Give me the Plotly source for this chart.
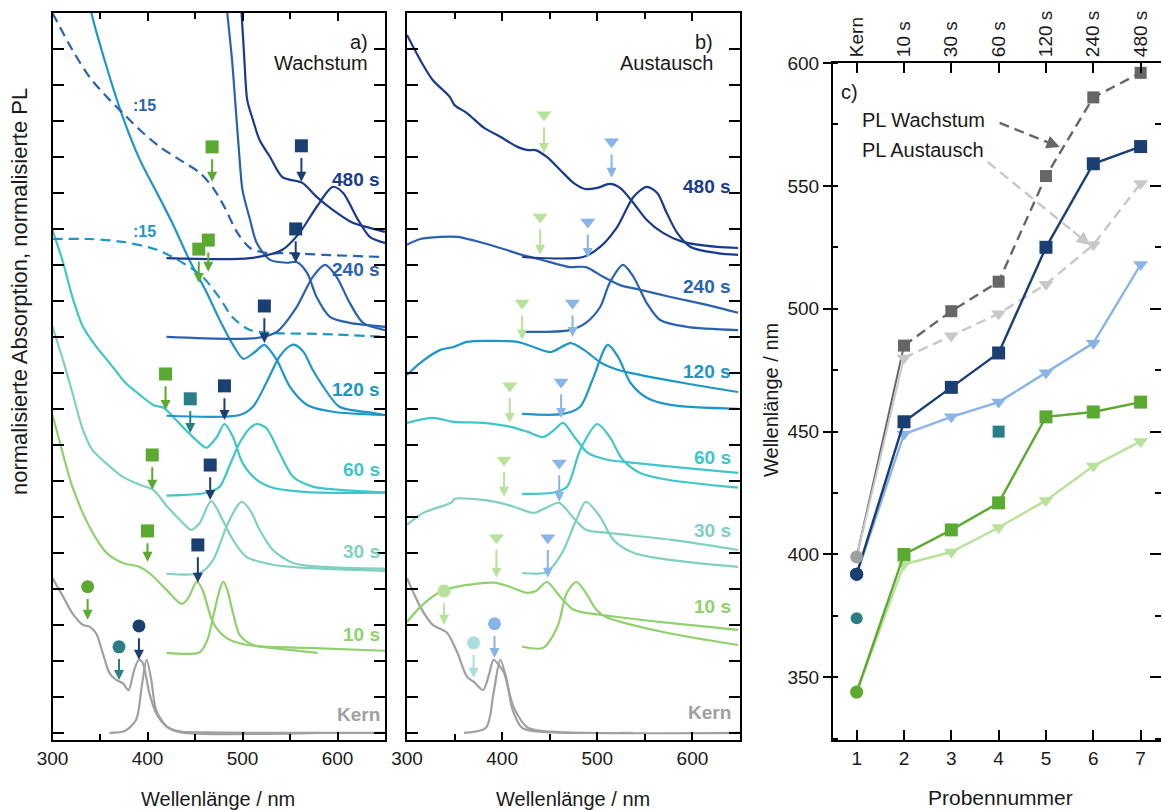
import plotly.graph_objects as go

FONT = "Liberation Sans, Arial, sans-serif"

# ---------------- colours ----------------
C_KERN = "#a0a0a0"
C_10 = "#8fd16c"
C_30 = "#80d0c0"
C_60 = "#3ec6c8"
C_120 = "#1e96c8"
C_240 = "#2a62b0"
C_480 = "#1a3a8c"
C_GREEN = "#5aaa32"
C_LGREEN = "#b8e29a"
C_DBLUE = "#1b3f73"
C_LBLUE = "#88b4e8"
C_TEAL = "#2a7f86"
C_LTEAL = "#a8dede"
C_DGRAY = "#666666"
C_LGRAY = "#c8c8c8"

# ================= Panel a (Wachstum) =================
a_kern_abs_nm = [300, 311, 321, 332, 339, 346, 353, 360, 367, 374, 380, 386, 391, 395, 402, 409, 420, 434, 462, 650]
a_kern_abs_y = [4.3, 3.79, 3.32, 3.0, 2.95, 2.76, 2.21, 1.66, 1.47, 1.38, 1.18, 1.75, 2.03, 1.94, 1.10, 0.55, 0.18, 0.04, 0.01, 0.0]
a_kern_pl_nm = [360, 376, 388, 394, 399, 404, 409, 420, 434, 580]
a_kern_pl_y = [0.0, 0.05, 0.36, 1.3, 2.03, 1.47, 0.64, 0.18, 0.02, 0.0]

a_10_abs_nm = [300, 307, 321, 339, 357, 374, 392, 402, 420, 436, 443, 452, 458, 469, 483, 505, 568, 650]
a_10_abs_y = [8.83, 8.14, 6.83, 5.72, 5.0, 4.72, 4.61, 4.44, 3.97, 3.58, 3.75, 4.2, 3.97, 3.06, 2.64, 2.44, 2.36, 2.28]
a_10_pl_nm = [420, 455, 463, 470, 477, 480, 484, 490, 497, 511, 540, 579]
a_10_pl_y = [2.22, 2.24, 2.58, 3.33, 4.06, 4.2, 3.97, 3.33, 2.72, 2.44, 2.33, 2.22]

a_30_abs_nm = [300, 311, 321, 332, 342, 356, 374, 392, 406, 420, 434, 446, 455, 467, 479, 490, 504, 532, 568, 650]
a_30_abs_y = [11.29, 10.36, 9.44, 8.42, 7.86, 7.5, 7.11, 6.89, 6.75, 6.31, 5.92, 5.64, 5.83, 6.44, 5.92, 5.36, 4.89, 4.67, 4.58, 4.5]
a_30_pl_nm = [420, 455, 469, 483, 494, 499, 508, 518, 532, 553, 585, 650]
a_30_pl_y = [4.42, 4.44, 4.8, 5.72, 6.28, 6.42, 6.19, 5.64, 5.08, 4.72, 4.61, 4.56]

a_60_abs_nm = [300, 311, 321, 332, 346, 360, 377, 392, 406, 417, 427, 437, 451, 462, 473, 481, 490, 500, 515, 532, 568, 650]
a_60_abs_y = [13.97, 13.08, 12.1, 11.29, 10.73, 10.28, 9.72, 9.39, 9.11, 9.03, 8.78, 8.5, 8.14, 7.92, 8.22, 8.58, 8.22, 7.5, 7.03, 6.81, 6.69, 6.67]
a_60_pl_nm = [420, 462, 476, 486, 497, 508, 515, 525, 539, 553, 574, 602, 650]
a_60_pl_y = [6.59, 6.67, 6.84, 7.4, 8.06, 8.47, 8.58, 8.47, 7.78, 7.12, 6.84, 6.75, 6.68]

a_120_abs_nm = [337, 341, 357, 374, 392, 410, 426, 444, 462, 476, 490, 501, 513, 523, 536, 550, 568, 595, 650]
a_120_abs_y = [20.6, 20.0, 18.5, 17.11, 15.92, 15.0, 14.17, 13.14, 12.25, 11.47, 10.78, 10.39, 10.58, 10.78, 10.36, 9.61, 9.11, 8.92, 8.83]
a_120_pl_nm = [420, 497, 511, 525, 539, 550, 555, 564, 574, 585, 602, 637, 650]
a_120_pl_y = [8.81, 8.83, 9.06, 9.72, 10.45, 10.75, 10.78, 10.59, 10.08, 9.62, 9.06, 8.89, 8.83]
a_120_abs15_nm = [300, 339, 374, 410, 437, 458, 476, 490, 508, 532, 585, 650]
a_120_abs15_y = [13.72, 13.72, 13.64, 13.42, 13.06, 12.67, 12.08, 11.53, 11.19, 11.11, 11.08, 11.0]

a_240_abs_nm = [482, 484, 489, 493, 497, 500, 508, 515, 529, 547, 557, 568, 578, 592, 613, 650]
a_240_abs_y = [20.6, 20.0, 18.69, 17.31, 15.92, 15.08, 14.25, 13.61, 13.14, 13.06, 13.08, 12.78, 12.11, 11.56, 11.39, 11.28]
a_240_pl_nm = [420, 515, 536, 557, 574, 587, 599, 613, 627, 650]
a_240_pl_y = [11.0, 10.97, 11.14, 11.83, 12.67, 13.0, 12.67, 11.94, 11.39, 11.19]
a_240_abs15_nm = [300, 321, 339, 357, 374, 392, 413, 434, 455, 469, 481, 494, 508, 526, 550, 585, 650]
a_240_abs15_y = [20.0, 18.97, 18.22, 17.67, 17.22, 16.75, 16.28, 15.92, 15.56, 15.14, 14.61, 13.92, 13.47, 13.33, 13.33, 13.28, 13.22]

a_480_abs_nm = [497, 499, 502, 505, 511, 518, 529, 542, 563, 578, 595, 616, 634, 650]
a_480_abs_y = [20.6, 20.0, 18.69, 17.58, 17.03, 16.47, 16.0, 15.44, 15.28, 14.89, 14.53, 14.17, 14.03, 13.92]
a_480_pl_nm = [420, 508, 542, 560, 578, 595, 606, 620, 634, 650]
a_480_pl_y = [13.19, 13.19, 13.42, 13.89, 14.61, 15.17, 15.0, 14.33, 13.78, 13.61]

# marker arrows panel a: wavelength, arrow tip, symbol height, symbol, colour
a_mark_nm = [337, 370, 391, 400, 453, 405, 466, 419, 445, 481, 454, 464, 523, 468, 556, 562]
a_mark_tip = [3.14, 1.47, 2.03, 4.75, 4.17, 6.75, 6.47, 8.97, 8.33, 8.69, 12.5, 12.81, 10.83, 15.31, 13.06, 15.31]
a_mark_sym = [4.06, 2.39, 2.97, 5.61, 5.22, 7.72, 7.44, 9.97, 9.28, 9.64, 13.44, 13.69, 11.86, 16.28, 14.0, 16.31]
a_mark_kind = ["circle", "circle", "circle", "square", "square", "square", "square", "square", "square",
               "square", "square", "square", "square", "square", "square", "square"]
a_mark_col = [C_GREEN, C_TEAL, C_DBLUE, C_GREEN, C_DBLUE, C_GREEN, C_DBLUE, C_GREEN, C_TEAL, C_DBLUE,
              C_GREEN, C_GREEN, C_DBLUE, C_GREEN, C_DBLUE, C_DBLUE]

# ================= Panel b (Austausch) =================
b_kern_abs_nm = [300, 314, 327, 342, 353, 363, 370, 380, 386, 391, 396, 402, 412, 427, 451, 650]
b_kern_abs_y = [4.3, 3.5, 3.0, 2.78, 2.22, 1.56, 1.42, 1.19, 1.6, 2.03, 1.9, 1.67, 0.72, 0.14, 0.03, 0.0]
b_kern_pl_nm = [360, 383, 391, 398, 404, 411, 421, 439, 537]
b_kern_pl_y = [0.0, 0.14, 1.11, 2.03, 1.56, 0.64, 0.14, 0.03, 0.0]

b_10_abs_nm = [300, 314, 335, 353, 391, 408, 426, 436, 447, 461, 475, 503, 573, 648]
b_10_abs_y = [3.08, 3.5, 3.92, 4.06, 4.17, 4.06, 3.89, 3.95, 4.19, 3.78, 3.42, 3.28, 3.06, 2.86]
b_10_pl_nm = [421, 443, 458, 468, 478, 488, 499, 509, 573, 648]
b_10_pl_y = [2.39, 2.36, 2.94, 3.89, 4.19, 3.89, 3.42, 3.22, 2.78, 2.44]

b_30_abs_nm = [300, 317, 347, 350, 380, 398, 416, 433, 446, 460, 474, 488, 509, 579, 648]
b_30_abs_y = [5.78, 6.11, 6.4, 6.5, 6.47, 6.39, 6.25, 6.11, 6.25, 6.39, 6.0, 5.64, 5.56, 5.36, 5.08]
b_30_pl_nm = [421, 447, 463, 478, 488, 503, 517, 538, 574, 648]
b_30_pl_y = [4.44, 4.47, 5.0, 5.92, 6.42, 6.0, 5.36, 5.0, 4.81, 4.61]

b_60_abs_nm = [300, 327, 349, 380, 409, 427, 443, 454, 464, 476, 490, 512, 539, 591, 648]
b_60_abs_y = [8.61, 8.75, 8.64, 8.61, 8.5, 8.36, 8.22, 8.4, 8.61, 8.22, 7.78, 7.58, 7.5, 7.36, 7.22]
b_60_pl_nm = [421, 453, 468, 482, 500, 513, 527, 545, 574, 648]
b_60_pl_y = [6.64, 6.67, 6.83, 7.86, 8.58, 8.22, 7.58, 7.22, 7.03, 6.81]

b_120_abs_nm = [300, 314, 335, 349, 363, 384, 416, 433, 451, 472, 486, 504, 522, 546, 591, 648]
b_120_abs_y = [9.94, 10.28, 10.64, 10.72, 10.86, 10.89, 10.86, 10.72, 10.58, 10.83, 10.64, 10.28, 10.08, 9.94, 9.72, 9.47]
b_120_pl_nm = [421, 464, 482, 495, 511, 522, 535, 552, 577, 648]
b_120_pl_y = [8.86, 8.86, 9.06, 9.81, 10.78, 10.44, 9.72, 9.31, 9.11, 9.0]

b_240_abs_nm = [300, 314, 335, 353, 380, 404, 418, 439, 471, 488, 506, 524, 545, 577, 615, 648]
b_240_abs_y = [13.56, 13.72, 13.78, 13.78, 13.61, 13.42, 13.3, 13.16, 12.94, 12.94, 12.67, 12.44, 12.31, 12.11, 11.89, 11.67]
b_240_pl_nm = [421, 471, 488, 503, 513, 527, 538, 552, 566, 594, 648]
b_240_pl_y = [11.14, 11.19, 11.39, 11.83, 12.5, 13.0, 12.67, 11.94, 11.47, 11.28, 11.19]

b_480_abs_nm = [300, 314, 327, 345, 350, 363, 380, 398, 416, 427, 435, 447, 461, 475, 487, 500, 513, 524, 538, 552, 569, 590, 626, 648]
b_480_abs_y = [19.39, 18.69, 18.14, 17.67, 17.44, 17.22, 16.83, 16.56, 16.28, 16.19, 16.19, 16.0, 15.64, 15.28, 15.11, 15.14, 15.25, 15.14, 14.72, 14.25, 13.89, 13.64, 13.5, 13.47]
b_480_pl_nm = [421, 485, 503, 521, 538, 552, 563, 573, 584, 598, 626, 648]
b_480_pl_y = [13.22, 13.22, 13.5, 14.06, 14.89, 15.17, 15.0, 14.44, 13.89, 13.5, 13.33, 13.28]

b_mark_nm = [339, 370, 392, 394, 448, 402, 460, 408, 462, 421, 474, 440, 490, 444, 515]
b_mark_tip = [3.0, 1.53, 2.08, 4.31, 4.31, 6.56, 6.42, 8.61, 8.75, 10.92, 11.0, 13.28, 13.19, 16.11, 15.42]
b_mark_sym = [3.94, 2.5, 3.03, 5.42, 5.42, 7.58, 7.5, 9.64, 9.75, 11.94, 11.94, 14.33, 14.19, 17.17, 16.42]
b_mark_kind = ["circle", "circle", "circle"] + ["triangle-down"] * 12
b_mark_col = [C_LGREEN, C_LTEAL, C_LBLUE] + [C_LGREEN, C_LBLUE] * 6

# ================= Panel c =================
c_x = [1, 2, 3, 4, 5, 6, 7]
c_top_labels = ["Kern", "10 s", "30 s", "60 s", "120 s", "240 s", "480 s"]
c_pl_wachstum = [399, 485, 499, 511, 554, 586, 596]
c_pl_austausch = [399, 480, 489, 498, 510, 526, 551]
c_abs_wachstum = [392, 454, 468, 482, 525, 559, 566]
c_abs_austausch = [392, 449, 456, 462, 474, 486, 518]
c_abs2_wachstum = [344, 400, 410, 421, 456, 458, 462]
c_abs2_austausch = [344, 396, 401, 411, 422, 436, 446]
c_teal_x = [1, 4]
c_teal_y = [374, 450]

DASH = "10px,6px"

fig = go.Figure()

def spec(x, y, color, xa, ya, dash="solid", width=2.2):
    fig.add_trace(go.Scatter(x=x, y=y, mode="lines", xaxis=xa, yaxis=ya,
                             line=dict(color=color, width=width, dash=dash, shape="spline", smoothing=0.8),
                             showlegend=False, hoverinfo="skip"))

# panel a
spec(a_kern_abs_nm, a_kern_abs_y, C_KERN, "x", "y")
spec(a_kern_pl_nm, a_kern_pl_y, C_KERN, "x", "y")
spec(a_10_abs_nm, a_10_abs_y, C_10, "x", "y")
spec(a_10_pl_nm, a_10_pl_y, C_10, "x", "y")
spec(a_30_abs_nm, a_30_abs_y, C_30, "x", "y")
spec(a_30_pl_nm, a_30_pl_y, C_30, "x", "y")
spec(a_60_abs_nm, a_60_abs_y, C_60, "x", "y")
spec(a_60_pl_nm, a_60_pl_y, C_60, "x", "y")
spec(a_120_abs_nm, a_120_abs_y, C_120, "x", "y")
spec(a_120_pl_nm, a_120_pl_y, C_120, "x", "y")
spec(a_120_abs15_nm, a_120_abs15_y, C_120, "x", "y", dash=DASH)
spec(a_240_abs_nm, a_240_abs_y, C_240, "x", "y")
spec(a_240_pl_nm, a_240_pl_y, C_240, "x", "y")
spec(a_240_abs15_nm, a_240_abs15_y, C_240, "x", "y", dash=DASH)
spec(a_480_abs_nm, a_480_abs_y, C_480, "x", "y")
spec(a_480_pl_nm, a_480_pl_y, C_480, "x", "y")

# panel b
spec(b_kern_abs_nm, b_kern_abs_y, C_KERN, "x2", "y2")
spec(b_kern_pl_nm, b_kern_pl_y, C_KERN, "x2", "y2")
spec(b_10_abs_nm, b_10_abs_y, C_10, "x2", "y2")
spec(b_10_pl_nm, b_10_pl_y, C_10, "x2", "y2")
spec(b_30_abs_nm, b_30_abs_y, C_30, "x2", "y2")
spec(b_30_pl_nm, b_30_pl_y, C_30, "x2", "y2")
spec(b_60_abs_nm, b_60_abs_y, C_60, "x2", "y2")
spec(b_60_pl_nm, b_60_pl_y, C_60, "x2", "y2")
spec(b_120_abs_nm, b_120_abs_y, C_120, "x2", "y2")
spec(b_120_pl_nm, b_120_pl_y, C_120, "x2", "y2")
spec(b_240_abs_nm, b_240_abs_y, C_240, "x2", "y2")
spec(b_240_pl_nm, b_240_pl_y, C_240, "x2", "y2")
spec(b_480_abs_nm, b_480_abs_y, C_480, "x2", "y2")
spec(b_480_pl_nm, b_480_pl_y, C_480, "x2", "y2")

annotations = []

def add_marks(nm, tip, sym, kind, col, xa, ya):
    for i in range(len(nm)):
        fig.add_trace(go.Scatter(x=[nm[i]], y=[sym[i]], mode="markers", xaxis=xa, yaxis=ya,
                                 marker=dict(symbol=kind[i], size=13, color=col[i], line=dict(width=0)),
                                 showlegend=False, hoverinfo="skip", cliponaxis=False))
        annotations.append(dict(x=nm[i], y=tip[i], ax=nm[i], ay=sym[i] - 0.3, xref=xa, yref=ya,
                                axref=xa, ayref=ya, showarrow=True, arrowhead=2, arrowsize=1,
                                arrowwidth=2, arrowcolor=col[i], text=""))

add_marks(a_mark_nm, a_mark_tip, a_mark_sym, a_mark_kind, a_mark_col, "x", "y")
add_marks(b_mark_nm, b_mark_tip, b_mark_sym, b_mark_kind, b_mark_col, "x2", "y2")

# panel c
def cline(x, y, color, symbol, dash="solid", size=13):
    fig.add_trace(go.Scatter(x=x, y=y, mode="lines+markers", xaxis="x3", yaxis="y3",
                             line=dict(color=color, width=2.4, dash=dash),
                             marker=dict(symbol=symbol, size=size, color=color),
                             showlegend=False, hoverinfo="skip", cliponaxis=False))

# connecting segments from the core sample
fig.add_trace(go.Scatter(x=c_x[:2], y=c_pl_wachstum[:2], mode="lines", xaxis="x3", yaxis="y3",
                         line=dict(color=C_DGRAY, width=2), showlegend=False, hoverinfo="skip"))
fig.add_trace(go.Scatter(x=c_x[:2], y=c_pl_austausch[:2], mode="lines", xaxis="x3", yaxis="y3",
                         line=dict(color=C_LGRAY, width=2), showlegend=False, hoverinfo="skip"))
cline(c_x[1:], c_pl_wachstum[1:], C_DGRAY, "square", dash=DASH, size=12)
cline(c_x[1:], c_pl_austausch[1:], C_LGRAY, "triangle-down", dash=DASH, size=13)
cline(c_x, c_abs_austausch, C_LBLUE, ["circle"] + ["triangle-down"] * 6)
cline(c_x, c_abs_wachstum, C_DBLUE, ["circle"] + ["square"] * 6)
cline(c_x, c_abs2_austausch, C_LGREEN, ["circle"] + ["triangle-down"] * 6)
cline(c_x, c_abs2_wachstum, C_GREEN, ["circle"] + ["square"] * 6)
fig.add_trace(go.Scatter(x=[1], y=[c_pl_wachstum[0]], mode="markers", xaxis="x3", yaxis="y3",
                         marker=dict(symbol="circle", size=13, color="#a0a0a0"),
                         showlegend=False, hoverinfo="skip", cliponaxis=False))
fig.add_trace(go.Scatter(x=[1], y=[c_abs_wachstum[0]], mode="markers", xaxis="x3", yaxis="y3",
                         marker=dict(symbol="circle", size=13, color=C_DBLUE),
                         showlegend=False, hoverinfo="skip", cliponaxis=False))
fig.add_trace(go.Scatter(x=c_teal_x, y=c_teal_y, mode="markers", xaxis="x3", yaxis="y3",
                         marker=dict(symbol=["circle", "square"], size=12, color=C_TEAL),
                         showlegend=False, hoverinfo="skip", cliponaxis=False))
# invisible traces for top axis and right axis
fig.add_trace(go.Scatter(x=c_x, y=c_pl_wachstum, mode="markers", xaxis="x4", yaxis="y3",
                         marker=dict(opacity=0), showlegend=False, hoverinfo="skip"))
fig.add_trace(go.Scatter(x=c_x, y=c_pl_wachstum, mode="markers", xaxis="x3", yaxis="y4",
                         marker=dict(opacity=0), showlegend=False, hoverinfo="skip"))

# ----- text labels -----
TXT = "#1a1a1a"
lab_a = [("480 s", 15.36, C_480), ("240 s", 12.86, C_240), ("120 s", 9.53, C_120), ("60 s", 7.31, C_60),
         ("30 s", 5.03, C_30), ("10 s", 2.72, C_10), ("Kern", 0.5, C_KERN)]
lab_b = [("480 s", 15.17, C_480), ("240 s", 12.39, C_240), ("120 s", 10.03, C_120), ("60 s", 7.64, C_60),
         ("30 s", 5.61, C_30), ("10 s", 3.5, C_10), ("Kern", 0.56, C_KERN)]
for t, yy, c in lab_a:
    annotations.append(dict(x=647, y=yy, xref="x", yref="y", text="<b>%s</b>" % t, showarrow=False,
                            xanchor="right", yanchor="middle", font=dict(family=FONT, size=19, color=c)))
for t, yy, c in lab_b:
    annotations.append(dict(x=643, y=yy, xref="x2", yref="y2", text="<b>%s</b>" % t, showarrow=False,
                            xanchor="right", yanchor="middle", font=dict(family=FONT, size=19, color=c)))

def txt(x, y, text, xref, yref, size=20, xanchor="center", angle=0, color=TXT):
    annotations.append(dict(x=x, y=y, xref=xref, yref=yref, text=text, showarrow=False, xanchor=xanchor,
                            yanchor="middle", textangle=angle, font=dict(family=FONT, size=size, color=color)))

txt(397, 17.44, "<b>:15</b>", "x", "y", size=16, color=C_240)
txt(397, 13.92, "<b>:15</b>", "x", "y", size=16, color=C_120)
txt(634, 19.19, "a)", "x", "y", xanchor="right")
txt(634, 18.62, "Wachstum", "x", "y", xanchor="right")
txt(624, 19.19, "b)", "x2", "y2", xanchor="right")
txt(624, 18.62, "Austausch", "x2", "y2", xanchor="right")
txt(0.62, 588, "c)", "x3", "y3", xanchor="left")
txt(1.08, 576.8, "PL Wachstum", "x3", "y3", xanchor="left")
txt(1.08, 564.6, "PL Austausch", "x3", "y3", xanchor="left")
# axis titles
txt(19 / 1162, (810 - 292) / 810, "normalisierte Absorption, normalisierte PL", "paper", "paper", size=22, angle=-90)
txt(218 / 1162, (810 - 799) / 810, "Wellenlänge / nm", "paper", "paper")
txt(573 / 1162, (810 - 799) / 810, "Wellenlänge / nm", "paper", "paper")
txt(1000 / 1162, (810 - 797) / 810, "Probennummer", "paper", "paper", size=21)
txt(771 / 1162, (810 - 400) / 810, "Wellenlänge / nm", "paper", "paper", angle=-90)

# dashed pointer arrows in panel c
shapes = []
for (x0, y0, x1, y1, c) in [(4.02, 575.6, 5.29, 565.8, C_DGRAY), (3.77, 559.7, 5.93, 525.9, C_LGRAY)]:
    xm = x1 - 0.18 * (x1 - x0)
    ym = y1 - 0.18 * (y1 - y0)
    shapes.append(dict(type="line", xref="x3", yref="y3", x0=x0, y0=y0, x1=xm, y1=ym,
                       line=dict(color=c, width=2.4, dash=DASH)))
    annotations.append(dict(x=x1, y=y1, ax=xm, ay=ym, xref="x3", yref="y3", axref="x3", ayref="y3",
                            showarrow=True, arrowhead=2, arrowsize=1.1, arrowwidth=2.4, arrowcolor=c, text=""))

W, H = 1162, 810
dom_y_ab = [(H - 740) / H, (H - 13) / H]
dom_y_c = [(H - 740) / H, (H - 63) / H]
TICKFONT = dict(family=FONT, size=19, color=TXT)

spec_x = dict(range=[300, 650], tick0=300, dtick=100, ticks="inside", ticklen=8, tickwidth=2,
              tickcolor="black", showline=True, linecolor="black", linewidth=2, mirror="ticks",
              minor=dict(ticks="inside", dtick=50, tick0=300, ticklen=6, tickwidth=2, tickcolor="black"),
              showgrid=False, zeroline=False, automargin=False, tickfont=TICKFONT)
spec_y = dict(range=[-0.2, 20.0], tickvals=list(range(0, 20)), ticks="inside", ticklen=11, tickwidth=2,
              tickcolor="black", showline=True, linecolor="black", linewidth=2, mirror="ticks",
              showticklabels=False, showgrid=False, zeroline=False, automargin=False)

fig.update_layout(
    width=W, height=H, margin=dict(l=0, r=0, t=0, b=0, pad=0, autoexpand=False),
    plot_bgcolor="white", paper_bgcolor="white", showlegend=False,
    xaxis=dict(domain=[52.5 / W, 385 / W], anchor="y", **spec_x),
    yaxis=dict(domain=dom_y_ab, anchor="x", **spec_y),
    xaxis2=dict(domain=[407 / W, 740 / W], anchor="y2", **spec_x),
    yaxis2=dict(domain=dom_y_ab, anchor="x2", **spec_y),
    xaxis3=dict(domain=[833 / W, 1160.5 / W], anchor="y3", range=[0.5, 7.42], tickvals=c_x,
                ticks="inside", ticklen=10, tickwidth=2, tickcolor="black", showline=True,
                linecolor="black", linewidth=2, showgrid=False, zeroline=False, automargin=False,
                tickfont=TICKFONT),
    xaxis4=dict(domain=[833 / W, 1160.5 / W], anchor="y3", overlaying="x3", side="top", range=[0.5, 7.42],
                tickvals=c_x, ticktext=c_top_labels, tickangle=-90, ticks="inside", ticklen=10,
                tickwidth=2, tickcolor="black", showline=True, linecolor="black", linewidth=2,
                showgrid=False, zeroline=False, automargin=False, tickfont=TICKFONT),
    yaxis3=dict(domain=dom_y_c, anchor="x3", range=[324.5, 600], tick0=350, dtick=50,
                ticks="outside", ticklen=8, tickwidth=2, tickcolor="black", showline=True,
                linecolor="black", linewidth=2, mirror=False, automargin=False,
                minor=dict(ticks="inside", dtick=25, ticklen=5, tickwidth=2, tickcolor="black"),
                showgrid=False, zeroline=False, tickfont=TICKFONT),
    yaxis4=dict(domain=dom_y_c, anchor="x3", overlaying="y3", side="right", range=[324.5, 600],
                tick0=350, dtick=50, ticks="inside", ticklen=11, tickwidth=2, tickcolor="black",
                showline=False, showticklabels=False, automargin=False,
                minor=dict(ticks="inside", dtick=25, ticklen=6, tickwidth=2, tickcolor="black"),
                showgrid=False, zeroline=False),
    annotations=annotations,
    shapes=shapes,
)

fig.write_html("out.html")
